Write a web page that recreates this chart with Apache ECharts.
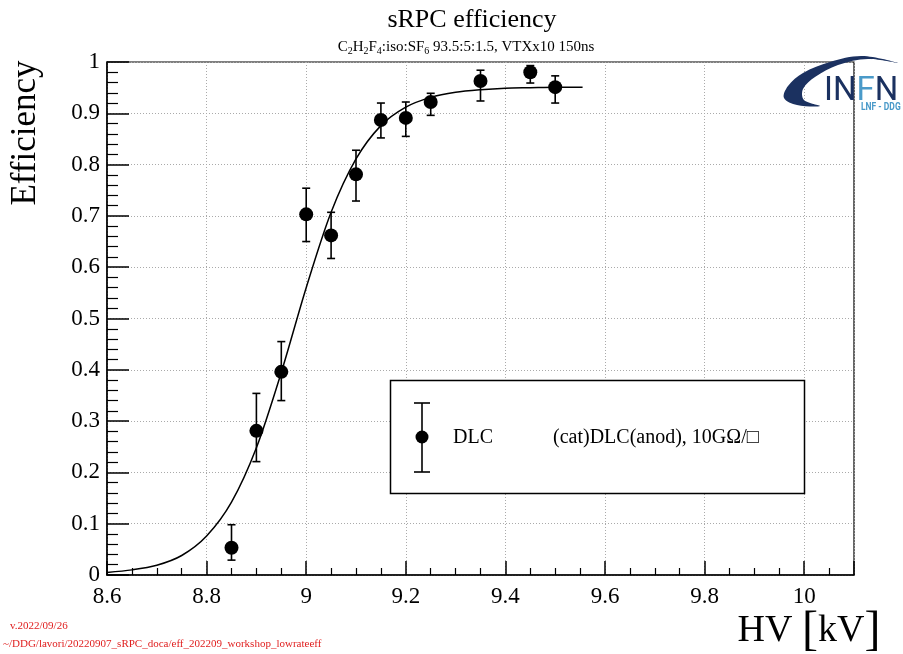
<!DOCTYPE html>
<html>
<head>
<meta charset="utf-8">
<script src="https://cdn.jsdelivr.net/npm/echarts@6/dist/echarts.min.js"></script>
<style>html,body{margin:0;padding:0;background:#fff}#c{width:903px;height:654px}</style>
</head>
<body>
<div id="c"></div>
<script>
// Measured points (HV in kV, efficiency, lower/upper error bounds)
const hv = [8.85, 8.9, 8.95, 9.0, 9.05, 9.1, 9.15, 9.2, 9.25, 9.35, 9.45, 9.5];
const eff = [0.053, 0.281, 0.396, 0.703, 0.662, 0.781, 0.887, 0.891, 0.922, 0.963, 0.980, 0.951];
const errLow = [0.029, 0.221, 0.340, 0.650, 0.617, 0.729, 0.852, 0.855, 0.896, 0.924, 0.959, 0.920];
const errHigh = [0.098, 0.354, 0.455, 0.754, 0.707, 0.828, 0.920, 0.922, 0.939, 0.984, 0.993, 0.973];
// Fit curve
const fitHV = [8.6, 8.65, 8.7, 8.75, 8.8, 8.85, 8.9, 8.95, 9.0, 9.05, 9.1, 9.15, 9.2, 9.25, 9.3, 9.35, 9.4, 9.45, 9.5, 9.555];
const fitEff = [0.005, 0.010, 0.019, 0.038, 0.076, 0.142, 0.248, 0.395, 0.560, 0.707, 0.811, 0.876, 0.912, 0.931, 0.941, 0.946, 0.949, 0.950, 0.951, 0.951];
// Texts
const titleText = 'sRPC efficiency';
const yTitle = 'Efficiency';
const legendName = 'DLC';
const legendDesc = '(cat)DLC(anod), 10GΩ/□';
const footer1 = 'v.2022/09/26';
const footer2 = '~/DDG/lavori/20220907_sRPC_doca/eff_202209_workshop_lowrateeff';

const serif = '"Liberation Serif", "DejaVu Serif", serif';
const chart = echarts.init(document.getElementById('c'), null, {renderer: 'canvas'});

const option = {
  animation: false,
  backgroundColor: '#fff',
  grid: {left: 107, right: 49, top: 62, bottom: 79, show: true, borderColor: '#000', borderWidth: 1.2, backgroundColor: 'transparent'},
  xAxis: {
    type: 'value', min: 8.6, max: 10.1, interval: 0.2,
    axisLine: {show: true, onZero: false, lineStyle: {color: '#000', width: 1.5}},
    axisTick: {show: true, inside: true, length: 14, lineStyle: {color: '#000', width: 1.5}},
    minorTick: {show: true, splitNumber: 4, length: 7, lineStyle: {color: '#000', width: 1.2}},
    splitLine: {show: true, lineStyle: {color: '#aaa', width: 1, type: [1, 2]}},
    axisLabel: {
      color: '#000', fontFamily: serif, fontSize: 23, margin: 10,
      formatter: v => Math.abs(v * 5 - Math.round(v * 5)) > 1e-6 ? '' : String(Math.round(v * 10) / 10)
    }
  },
  yAxis: {
    type: 'value', min: 0, max: 1, interval: 0.1,
    axisLine: {show: true, lineStyle: {color: '#000', width: 1.5}},
    axisTick: {show: true, inside: true, length: 22, lineStyle: {color: '#000', width: 1.5}},
    minorTick: {show: true, splitNumber: 5, length: 11, lineStyle: {color: '#000', width: 1.2}},
    splitLine: {show: true, lineStyle: {color: '#aaa', width: 1, type: [1, 2]}},
    axisLabel: {color: '#000', fontFamily: serif, fontSize: 23, margin: 7,
      formatter: v => String(Math.round(v * 10) / 10)}
  },
  series: [
    {
      type: 'line', data: fitHV.map((x, i) => [x, fitEff[i]]), smooth: 0.3,
      showSymbol: false, lineStyle: {color: '#000', width: 1.5}, z: 3, silent: true
    },
    {
      type: 'custom', z: 4, silent: true,
      data: hv.map((x, i) => [x, errLow[i], errHigh[i]]),
      renderItem: function (params, api) {
        const x = api.value(0);
        const lo = api.coord([x, api.value(1)]);
        const hi = api.coord([x, api.value(2)]);
        const w = 4;
        const st = {stroke: '#000', lineWidth: 1.6};
        return {type: 'group', children: [
          {type: 'line', shape: {x1: lo[0], y1: lo[1], x2: hi[0], y2: hi[1]}, style: st},
          {type: 'line', shape: {x1: lo[0] - w, y1: lo[1], x2: lo[0] + w, y2: lo[1]}, style: st},
          {type: 'line', shape: {x1: hi[0] - w, y1: hi[1], x2: hi[0] + w, y2: hi[1]}, style: st}
        ]};
      }
    },
    {
      type: 'scatter', data: hv.map((x, i) => [x, eff[i]]), symbol: 'circle', symbolSize: 14,
      itemStyle: {color: '#000', opacity: 1}, z: 5, silent: true
    }
  ],
  graphic: [
    {type: 'text', x: 472, y: 20, style: {text: titleText, font: '26px ' + serif, fill: '#000', align: 'center', verticalAlign: 'middle'}},
    {type: 'text', x: 466, y: 47, style: {
      text: 'C{s|2}H{s|2}F{s|4}:iso:SF{s|6} 93.5:5:1.5, VTXx10 150ns',
      font: '15px ' + serif, fill: '#000', align: 'center', verticalAlign: 'middle',
      rich: {s: {fontSize: 10, fontFamily: serif, padding: [9, 0, 0, 0]}}
    }},
    {type: 'text', x: 26, y: 133, rotation: Math.PI / 2, style: {text: yTitle, font: '35px ' + serif, fill: '#000', align: 'center', verticalAlign: 'middle'}},
    {type: 'text', x: 809, y: 631, style: {
      text: 'HV {b|[}kV{b|]}', font: '38px ' + serif, fill: '#000', align: 'center', verticalAlign: 'middle',
      rich: {b: {fontSize: 48, fontFamily: serif}}
    }},
    // legend
    {type: 'rect', shape: {x: 390.5, y: 380.5, width: 414, height: 113}, style: {fill: '#fff', stroke: '#000', lineWidth: 1.5}, z: 10},
    {type: 'line', shape: {x1: 422, y1: 403, x2: 422, y2: 472}, style: {stroke: '#000', lineWidth: 1.6}, z: 11},
    {type: 'line', shape: {x1: 414, y1: 403, x2: 430, y2: 403}, style: {stroke: '#000', lineWidth: 1.6}, z: 11},
    {type: 'line', shape: {x1: 414, y1: 472, x2: 430, y2: 472}, style: {stroke: '#000', lineWidth: 1.6}, z: 11},
    {type: 'circle', shape: {cx: 422, cy: 437, r: 6.5}, style: {fill: '#000'}, z: 11},
    {type: 'text', x: 453, y: 438, style: {text: legendName, font: '20px ' + serif, fill: '#000', verticalAlign: 'middle'}, z: 11},
    {type: 'text', x: 553, y: 438, style: {text: legendDesc, font: '20px ' + serif, fill: '#000', verticalAlign: 'middle'}, z: 11},
    // footer
    {type: 'text', x: 10, y: 626, style: {text: footer1, font: '11px ' + serif, fill: '#e02020', verticalAlign: 'middle'}},
    {type: 'text', x: 3, y: 644, style: {text: footer2, font: '11px ' + serif, fill: '#e02020', verticalAlign: 'middle'}},
    // logo
    {type: 'polygon', z: 20, shape: {smooth: 0.35, points: [[820, 106], [797, 105], [784, 98], [788, 86], [803, 73], [830, 62], [862, 56], [898, 63], [868, 59], [838, 65], [815, 77], [803, 89], [804, 100]]}, style: {fill: '#1b3160'}},
    {type: 'text', z: 20, x: 824, y: 91, scaleX: 0.97, style: {
      text: '{a|IN}{b|F}{a|N}', font: '34px Roboto', verticalAlign: 'middle',
      rich: {a: {fill: '#1b3160', fontSize: 34, fontFamily: 'Roboto'}, b: {fill: '#4a9ac9', fontSize: 34, fontFamily: 'Roboto'}}
    }},
    {type: 'text', z: 20, x: 861, y: 107, scaleX: 0.85, style: {text: 'LNF - DDG', font: 'bold 10px Roboto', fill: '#4a9ac9', verticalAlign: 'middle'}}
  ]
};
chart.setOption(option);
</script>
</body>
</html>
